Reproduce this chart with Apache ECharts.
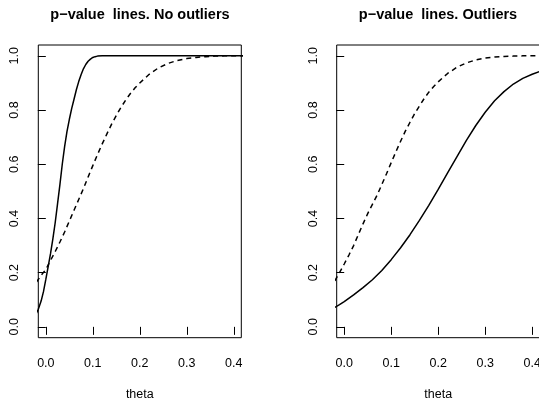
<!DOCTYPE html>
<html style="height: 100%">
<head>
<meta charset="utf-8">
</head>
<body style="height: 100%; margin: 0; background: #fff">
<div id="container" style="width: 539px; height: 401px"></div>
<script type="text/javascript" src="https://cdn.jsdelivr.net/npm/echarts@6/dist/echarts.min.js"></script>
<script type="text/javascript">
var dom = document.getElementById("container");
var myChart = echarts.init(dom);

// panel titles and ticks
var titles = ['p\u2212value  lines. No outliers', 'p\u2212value  lines. Outliers'];
var xTicks = [0, 0.1, 0.2, 0.3, 0.4];
var yTicks = [0, 0.2, 0.4, 0.6, 0.8, 1.0];

// left panel (no outliers)
var thetaA = [-0.02, -0.016, -0.01, -0.005, 0, 0.005, 0.01, 0.015, 0.02, 0.025, 0.03, 0.035, 0.04, 0.045,
    0.05, 0.055, 0.06, 0.065, 0.07, 0.075, 0.08, 0.085, 0.09, 0.095, 0.1, 0.105, 0.11, 0.12, 0.42];
var solidA = [0.05, 0.065, 0.095, 0.13, 0.175, 0.222, 0.27, 0.325, 0.385, 0.455, 0.525, 0.6, 0.665, 0.72,
    0.765, 0.805, 0.84, 0.875, 0.905, 0.93, 0.952, 0.968, 0.98, 0.988, 0.994, 0.997, 0.999, 1, 1];

var thetaB = [-0.02, -0.01, 0, 0.01, 0.02, 0.03, 0.04, 0.05, 0.06, 0.07, 0.08, 0.09, 0.1, 0.11, 0.12, 0.13,
    0.14, 0.15, 0.16, 0.17, 0.18, 0.19, 0.2, 0.22, 0.24, 0.26, 0.28, 0.3, 0.32, 0.34, 0.36, 0.38, 0.42];
var dashedA = [0.165, 0.19, 0.212, 0.245, 0.278, 0.313, 0.35, 0.39, 0.43, 0.47, 0.51, 0.553, 0.595, 0.636,
    0.675, 0.712, 0.748, 0.78, 0.81, 0.837, 0.861, 0.882, 0.9, 0.932, 0.956, 0.972, 0.983, 0.99, 0.994,
    0.997, 0.999, 1, 1];

// right panel (outliers)
var dashedB = [0.17, 0.2, 0.232, 0.265, 0.3, 0.34, 0.38, 0.418, 0.452, 0.486, 0.525, 0.565, 0.606, 0.646,
    0.685, 0.722, 0.755, 0.787, 0.815, 0.842, 0.866, 0.886, 0.904, 0.935, 0.958, 0.974, 0.985, 0.992, 0.996,
    0.998, 0.999, 1, 1];

var thetaC = [-0.02, -0.01, 0, 0.02, 0.04, 0.06, 0.08, 0.1, 0.12, 0.14, 0.16, 0.18, 0.2, 0.22, 0.24, 0.26,
    0.28, 0.3, 0.32, 0.34, 0.36, 0.38, 0.4, 0.42];
var solidB = [0.072, 0.082, 0.093, 0.118, 0.145, 0.174, 0.208, 0.248, 0.292, 0.34, 0.393, 0.448, 0.507,
    0.568, 0.628, 0.688, 0.743, 0.792, 0.834, 0.868, 0.896, 0.917, 0.932, 0.945];

function pairs(xs, ys) {
    return xs.map(function (x, i) { return [x, ys[i]]; });
}

var font = 'Liberation Sans, Arial, Helvetica, sans-serif';

function xAxisFor(idx) {
    return {
        type: 'value', gridIndex: idx, min: -0.016, max: 0.416,
        name: 'theta', nameLocation: 'middle', nameGap: 50,
        nameTextStyle: { fontFamily: font, fontSize: 12.5, color: '#000' },
        axisLine: { show: false },
        axisTick: { show: true, length: 8, customValues: xTicks, lineStyle: { color: '#000', width: 1 } },
        axisLabel: {
            customValues: xTicks, margin: 19, fontFamily: font, fontSize: 12.5, color: '#000',
            formatter: function (v) { return v.toFixed(1); }
        },
        splitLine: { show: false }
    };
}

function yAxisFor(idx) {
    return {
        type: 'value', gridIndex: idx, min: -0.04, max: 1.04,
        axisLine: { show: false },
        axisTick: { show: true, length: 8, customValues: yTicks, lineStyle: { color: '#000', width: 1 } },
        axisLabel: {
            customValues: yTicks, rotate: 90, margin: 17, fontFamily: font, fontSize: 12.5, color: '#000',
            formatter: function (v) { return v.toFixed(1); }
        },
        splitLine: { show: false }
    };
}

function line(idx, data, dashed) {
    return {
        type: 'line', xAxisIndex: idx, yAxisIndex: idx, data: data,
        showSymbol: false, smooth: false, clip: true, silent: true,
        lineStyle: { color: '#000', width: 1.5, type: dashed ? [5, 4] : 'solid' }
    };
}

var option = {
    backgroundColor: '#fff',
    animation: false,
    title: [
        { text: titles[0], left: 140, top: 7, padding: 0, textAlign: 'center',
          textStyle: { fontFamily: font, fontSize: 14.5, fontWeight: 'bold', color: '#000' } },
        { text: titles[1], left: 438, top: 7, padding: 0, textAlign: 'center',
          textStyle: { fontFamily: font, fontSize: 14.5, fontWeight: 'bold', color: '#000' } }
    ],
    grid: [
        { left: 38.3, top: 45, width: 203, height: 292.7, show: true, borderColor: '#000', borderWidth: 1,
          backgroundColor: 'transparent', outerBoundsMode: 'none' },
        { left: 336.7, top: 45, width: 203, height: 292.7, show: true, borderColor: '#000', borderWidth: 1,
          backgroundColor: 'transparent', outerBoundsMode: 'none' }
    ],
    xAxis: [xAxisFor(0), xAxisFor(1)],
    yAxis: [yAxisFor(0), yAxisFor(1)],
    series: [
        line(0, pairs(thetaA, solidA), false),
        line(0, pairs(thetaB, dashedA), true),
        line(1, pairs(thetaB, dashedB), true),
        line(1, pairs(thetaC, solidB), false)
    ]
};

myChart.setOption(option);
</script>
</body>
</html>
